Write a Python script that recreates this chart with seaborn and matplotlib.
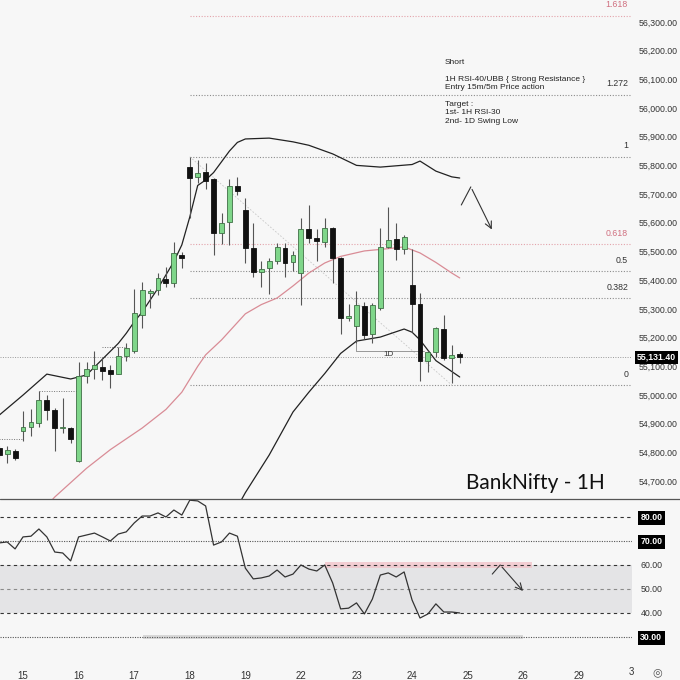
import numpy as np
import pandas as pd
import matplotlib.pyplot as plt
from matplotlib.lines import Line2D
import seaborn as sns

# Hourly candles, index 0 = first bar of the 15th (7 bars per day)
bar_idx = list(range(-3, 56))
opens = [54815, 54794, 54805, 54875, 54889, 54902, 54983, 54948, 54885, 54885,
         54770, 55066, 55091, 55098, 55087, 55073, 55136, 55153, 55279, 55355,
         55366, 55404, 55390, 55488, 55794, 55760, 55777, 55753, 55564, 55603,
         55728, 55645, 55512, 55429, 55442, 55467, 55512, 55463, 55425, 55578,
         55547, 55533, 55582, 55477, 55268, 55240, 55310, 55213, 55303, 55516,
         55544, 55509, 55383, 55317, 55118, 55150, 55230, 55129, 55142]
highs = [54822, 54822, 54812, 54944, 54951, 55014, 55000, 54955, 54990, 54889,
         55115, 55115, 55153, 55132, 55105, 55167, 55181, 55369, 55394, 55369,
         55425, 55446, 55533, 55498, 55829, 55819, 55808, 55756, 55634, 55753,
         55760, 55686, 55599, 55467, 55477, 55530, 55530, 55502, 55617, 55662,
         55578, 55617, 55585, 55480, 55317, 55362, 55324, 55321, 55582, 55655,
         55599, 55557, 55509, 55355, 55157, 55237, 55279, 55174, 55150]
lows = [54780, 54763, 54774, 54840, 54857, 54889, 54913, 54805, 54868, 54833,
        54767, 55042, 55056, 55052, 55024, 55073, 55118, 55146, 55233, 55303,
        55348, 55376, 55376, 55442, 55617, 55739, 55718, 55488, 55526, 55523,
        55697, 55460, 55411, 55376, 55352, 55456, 55411, 55432, 55314, 55530,
        55467, 55516, 55390, 55213, 55258, 55181, 55195, 55181, 55296, 55512,
        55470, 55491, 55219, 55049, 55080, 55132, 55122, 55042, 55112]
closes = [54791, 54808, 54780, 54889, 54906, 54983, 54948, 54885, 54888, 54847,
          55066, 55091, 55105, 55084, 55073, 55136, 55164, 55286, 55366, 55362,
          55408, 55390, 55495, 55477, 55756, 55773, 55746, 55564, 55599, 55728,
          55711, 55512, 55429, 55439, 55467, 55516, 55460, 55488, 55578, 55547,
          55537, 55582, 55477, 55268, 55275, 55314, 55209, 55314, 55516, 55540,
          55509, 55550, 55317, 55118, 55150, 55233, 55129, 55139, 55131.4]
last_price = 55131.4

# Bollinger bands
upper_idx = [-3, 0, 3, 6, 8, 10, 12, 13, 14, 15, 17, 19, 20, 21, 22, 23, 24, 26, 27, 28,
             31, 34, 36, 39, 42, 45, 49, 50, 52, 54, 55]
upper_val = [54930, 55000, 55073, 55056, 55070, 55125, 55180, 55215, 55255, 55289,
             55372, 55465, 55523, 55620, 55730, 55749, 55775, 55850, 55880, 55892,
             55895, 55882, 55870, 55840, 55800, 55794, 55803, 55815, 55780, 55760, 55756]
lower_idx = [26, 27, 28, 31, 34, 36, 38, 40, 42, 45, 48, 49, 50, 52, 55]
lower_val = [54560, 54610, 54660, 54791, 54941, 55010, 55075, 55145, 55188, 55202,
             55230, 55219, 55192, 55120, 55063]
basis_idx = [3, 4, 8, 11, 15, 18, 20, 22, 23, 25, 28, 30, 32, 34, 36, 38, 40, 43, 46,
             48, 50, 52, 54, 55]
basis_val = [54615, 54645, 54745, 54810, 54885, 54950, 55010, 55100, 55140, 55192,
             55283, 55315, 55338, 55380, 55425, 55460, 55483, 55502, 55510, 55516,
             55495, 55462, 55425, 55408]

# Fibonacci retracement
fib_low, fib_high = 55035, 55830
fib_levels = [0, 0.382, 0.5, 0.618, 1, 1.272, 1.618]
fib_labels = ["0", "0.382", "0.5", "0.618", "1", "1.272", "1.618"]

# RSI (1H)
rsi = [69.2, 69.6, 66.7, 71.7, 72, 75, 71.7, 65.4, 65, 61.7,
       71.7, 72.5, 73.3, 71.7, 70, 72.9, 73.8, 77.5, 80.4, 80.4,
       81.7, 80, 82.9, 80.8, 87, 86.7, 84.6, 68.3, 69.6, 73.3,
       72, 58.7, 54.2, 54.6, 55.4, 57.9, 55, 56.2, 60, 58.3,
       57.5, 60, 52.5, 41.7, 42, 44.2, 39.6, 45.8, 55.8, 56.7,
       55, 57.1, 45.4, 37.9, 39.6, 43.8, 40.4, 40.4, 40]

day_ticks = [0, 7, 14, 21, 28, 35, 42, 49, 56, 63, 70]
day_labels = ["15", "16", "17", "18", "19", "22", "23", "24", "25", "26", "29"]
price_ticks = list(range(54700, 56301, 100))
rsi_ticks = [30, 40, 50, 60, 70, 80]

df = pd.DataFrame({"i": bar_idx, "open": opens, "high": highs,
                   "low": lows, "close": closes, "rsi": rsi})

bg = "#f7f7f7"
sns.set_theme(style="white")
plt.rcParams["font.family"] = ["Liberation Sans", "DejaVu Sans"]

fig = plt.figure(figsize=(6.8, 6.8), dpi=100, facecolor=bg)
ax = fig.add_axes([0, 1 - 499 / 680, 632 / 680, 499 / 680], facecolor=bg)
ax_rsi = fig.add_axes([0, 1 - 660 / 680, 632 / 680, 161 / 680], facecolor=bg)

xmin, xmax = -2.9, 76.7
for a in (ax, ax_rsi):
    a.set_xlim(xmin, xmax)
    for s in a.spines.values():
        s.set_visible(False)

# ---- price panel
ax.set_ylim(54638, 56376)

up = df["close"] >= df["open"]
body_lo = np.minimum(df["open"], df["close"])
body_h = np.maximum(np.abs(df["close"] - df["open"]), 4)
ax.vlines(df["i"], df["low"], df["high"], color="#555555", lw=0.8, zorder=3)
ax.bar(df["i"], body_h, bottom=body_lo, width=0.62,
       color=np.where(up, "#7fd68a", "#111111"),
       edgecolor=np.where(up, "#3f6f45", "#111111"), linewidth=0.6, zorder=4)

sns.lineplot(x=upper_idx, y=upper_val, ax=ax, color="#222222", lw=0.9, zorder=2)
sns.lineplot(x=lower_idx, y=lower_val, ax=ax, color="#222222", lw=0.9, zorder=2)
sns.lineplot(x=basis_idx, y=basis_val, ax=ax, color="#d98c96", lw=0.9, zorder=2)

# fib levels
for lev, lab in zip(fib_levels, fib_labels):
    p = fib_low + lev * (fib_high - fib_low)
    red = lab in ("0.618", "1.618")
    col = "#e3a3ab" if red else "#8c8c8c"
    ax.hlines(p, 21, xmax, color=col, lw=0.8, linestyles=(0, (1, 1.5)), zorder=1)
    ax.text(76.2, p + 22, lab, ha="right", va="bottom", fontsize=6.3,
            color="#d07080" if red else "#333333")
ax.plot([21, 54], [fib_high, fib_low], color="#c8c8c8", lw=0.6, ls=(0, (2, 2)), zorder=1)

# small horizontal markers
segments = [(-3, 0, 54847), (2, 7, 55014), (10, 13, 55167)]
for s0, s1, p in segments:
    ax.hlines(p, s0, s1, color="#777777", lw=0.7, linestyles=(0, (1, 1.5)), zorder=1)
ax.plot([42, 42, 50.5], [55181, 55153, 55153], color="#888888", lw=0.6)
ax.text(46, 55140, "1D", fontsize=5.8, ha="center", va="center", color="#333333")

# last price line
ax.axhline(last_price, color="#999999", lw=0.7, ls=(0, (1, 1.5)), zorder=1)

# projection arrow
ax.plot([55.2, 56.4], [55662, 55725], color="#333333", lw=0.8)
ax.annotate("", xy=(59.2, 55568), xytext=(56.4, 55725),
            arrowprops=dict(arrowstyle="->", color="#333333", lw=0.8))

# notes
fs = 6.0
ax.text(53.1, 56157, "Short", fontsize=fs, va="center", color="#222222")
ax.text(53.1, 56099, "1H RSI-40/UBB { Strong Resistance }", fontsize=fs, va="center", color="#222222")
ax.text(53.1, 56071, "Entry 15m/5m Price action", fontsize=fs, va="center", color="#222222")
ax.text(53.1, 56012, "Target :", fontsize=fs, va="center", color="#222222")
ax.text(53.1, 55984, "1st- 1H RSI-30", fontsize=fs, va="center", color="#222222")
ax.text(53.1, 55954, "2nd- 1D Swing Low", fontsize=fs, va="center", color="#222222")
ax.text(64.5, 54693, "BankNifty - 1H", fontsize=15, ha="center", va="center",
        color="#111111", family=["Lato", "DejaVu Sans"])

ax.yaxis.tick_right()
ax.set_yticks(price_ticks)
ax.set_yticklabels([f"{t:,.2f}" for t in price_ticks])
ax.tick_params(axis="y", length=0, pad=5, labelsize=6.3, labelcolor="#333333")
ax.tick_params(axis="x", length=0, labelbottom=False)
ax.set_xlabel("")
ax.set_ylabel("")
ax.text(1.0 + 5 / 632, last_price, f"{last_price:,.2f}", transform=ax.get_yaxis_transform(),
        ha="left", va="center", fontsize=6.3, color="white", fontweight="bold",
        bbox=dict(boxstyle="square,pad=0.2", fc="black", ec="none"), zorder=10)

# ---- RSI panel
ax_rsi.set_ylim(20.4, 87.5)
ax_rsi.axhspan(40, 60, xmin=0, xmax=1, color="#e4e4e6", lw=0, zorder=0)
ax_rsi.fill_between([38, 64.1], 58.8, 61.2, color="#f3c4ca", alpha=0.8, lw=0, zorder=1)
ax_rsi.fill_between([15.1, 63], 29, 31, color="#d8d8d8", lw=0, zorder=1)
line_styles = {80: ("#333333", (0, (3, 3))), 70: ("#555555", (0, (1, 1.2))),
               60: ("#333333", (0, (3, 3))), 50: ("#8a8a8a", (0, (3, 3))),
               40: ("#333333", (0, (3, 3))), 30: ("#555555", (0, (1, 1.2)))}
for lvl, (c, ls) in line_styles.items():
    ax_rsi.axhline(lvl, color=c, lw=0.8, ls=ls, zorder=2)

sns.lineplot(data=df, x="i", y="rsi", ax=ax_rsi, color="#333333", lw=0.9, zorder=3)
ax_rsi.plot([59.1, 60.1], [56.2, 60], color="#333333", lw=0.8)
ax_rsi.annotate("", xy=(63.2, 48.3), xytext=(60.1, 60),
                arrowprops=dict(arrowstyle="->", color="#333333", lw=0.8))

ax_rsi.yaxis.tick_right()
ax_rsi.set_yticks(rsi_ticks)
ax_rsi.set_yticklabels([f"{t:.2f}" for t in rsi_ticks])
ax_rsi.tick_params(axis="y", length=0, pad=6, labelsize=6.3, labelcolor="#333333")
for lbl in ax_rsi.get_yticklabels():
    if lbl.get_text() in ("80.00", "70.00", "30.00"):
        lbl.set_color("white")
        lbl.set_fontweight("bold")
        lbl.set_bbox(dict(boxstyle="square,pad=0.25", fc="black", ec="none"))
ax_rsi.set_xticks(day_ticks)
ax_rsi.set_xticklabels(day_labels)
ax_rsi.tick_params(axis="x", length=0, pad=8, labelsize=7, labelcolor="#333333")
ax_rsi.set_xlabel("")
ax_rsi.set_ylabel("")

fig.text(631 / 680, 1 - 672 / 680, "3", fontsize=7, color="#333333", va="center", ha="center")
fig.text(657 / 680, 1 - 672 / 680, "◎", fontsize=8, color="#555555", va="center", ha="center",
         family=["DejaVu Sans"])
fig.add_artist(Line2D([0, 1], [1 - 499 / 680] * 2, color="#555555", lw=0.9))

fig.savefig("out.png", dpi=100, facecolor=bg)
